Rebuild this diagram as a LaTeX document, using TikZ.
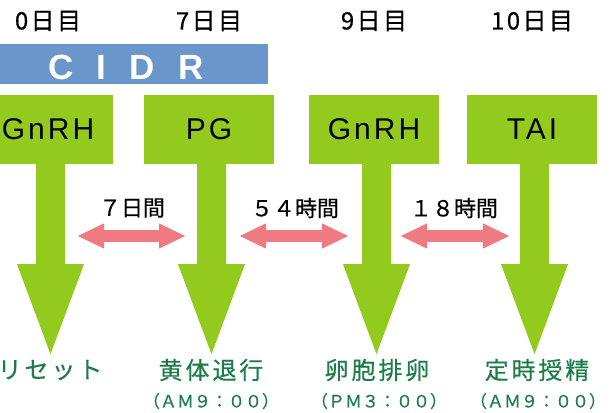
\documentclass[tikz,border=0pt]{standalone}
\usepackage{fontspec}
\usetikzlibrary{calc,arrows.meta}
\setmainfont{Liberation Sans}
\newfontfamily\jp[FakeBold=0.4]{Noto Sans CJK JP}
\newfontfamily\jpday[FakeBold=0.6,LetterSpace=10]{Noto Sans CJK JP}
\newfontfamily\jpsp[FakeBold=0.5,LetterSpace=12]{Noto Sans CJK JP}
\newfontfamily\latsp[LetterSpace=10]{Liberation Sans}
\newfontfamily\cidrf[LetterSpace=66]{Liberation Sans}
\definecolor{gr}{RGB}{146,202,30}
\definecolor{bl}{RGB}{107,150,204}
\definecolor{pk}{RGB}{240,122,130}
\definecolor{dg}{RGB}{28,125,72}
\tikzset{
  gbox/.style={fill=gr, minimum width=130pt, minimum height=69pt, inner sep=0pt,
    font=\latsp\fontsize{30}{36}\selectfont},
  daylbl/.style={inner sep=0pt, font=\jpday\fontsize{24}{28}\selectfont},
  intlbl/.style={inner sep=0pt, font=\jp\fontsize{22}{26}\selectfont},
  reslbl/.style={inner sep=0pt, text=dg, font=\jpsp\fontsize{24}{28}\selectfont},
  timelbl/.style={inner sep=0pt, text=dg, font=\jp\fontsize{17}{20}\selectfont},
  pkarrow/.style={draw=pk, line width=12pt,
    {Triangle[length=27pt,width=23pt]}-{Triangle[length=27pt,width=23pt]}}
}
\newcommand\greenarrow[1]{%
  \fill[gr] ($(#1.south)+(-12,-1)$) -- ($(#1.south)+(-12,100)$) -- ($(#1.south)+(-31,100)$)
    -- ($(#1.south)+(2.5,190)$) -- ($(#1.south)+(36,100)$) -- ($(#1.south)+(17,100)$)
    -- ($(#1.south)+(17,-1)$) -- cycle;}
\begin{document}
\begin{tikzpicture}[x=1pt,y=-1pt]
\useasboundingbox (0,0) rectangle (612,412);
\clip (0,0) rectangle (612,412);
% day labels
\node[daylbl] (d0) at (48,21) {0日目};
\node[daylbl] (d7) at (209,21) {7日目};
\node[daylbl] (d9) at (374,21) {9日目};
\node[daylbl] (d10) at (532,21) {10日目};
% CIDR bar
\node[fill=bl, minimum width=268pt, minimum height=40pt, inner sep=0pt] (cidr) at (134,64) {};
\node[inner sep=0pt, text=white, font=\cidrf\bfseries\fontsize{35}{40}\selectfont]
  (cidrt) at ($(cidr.center)+(-8,3)$) {CIDR};
% boxes
\node[gbox] (b1) at (48,129.5) {GnRH};
\node[gbox] (b2) at (209,129.5) {PG};
\node[gbox] (b3) at (374,129.5) {GnRH};
\node[gbox] (b4) at (532,129.5) {TAI};
\greenarrow{b1}
\greenarrow{b2}
\greenarrow{b3}
\greenarrow{b4}
% intervals
\coordinate (p1l) at (77,236); \coordinate (p1r) at (186,236);
\coordinate (p2l) at (239,236); \coordinate (p2r) at (349,236);
\coordinate (p3l) at (400,236); \coordinate (p3r) at (510,236);
\draw[pkarrow] (p1l) -- (p1r);
\draw[pkarrow] (p2l) -- (p2r);
\draw[pkarrow] (p3l) -- (p3r);
\node[intlbl] (i1) at (132,208) {７日間};
\node[intlbl] (i2) at (295,208) {５４時間};
\node[intlbl] (i3) at (454,208) {１８時間};
% results
\node[reslbl] (r1) at (50,370) {リセット};
\node[reslbl] (r2) at (211,370) {黄体退行};
\node[reslbl] (r3) at (377,370) {卵胞排卵};
\node[reslbl] (r4) at (537,370) {定時授精};
\node[timelbl] (t2) at (211,401) {（ＡＭ９：００）};
\node[timelbl] (t3) at (379,401) {（ＰＭ３：００）};
\node[timelbl] (t4) at (538,401) {（ＡＭ９：００）};
\end{tikzpicture}
\end{document}
